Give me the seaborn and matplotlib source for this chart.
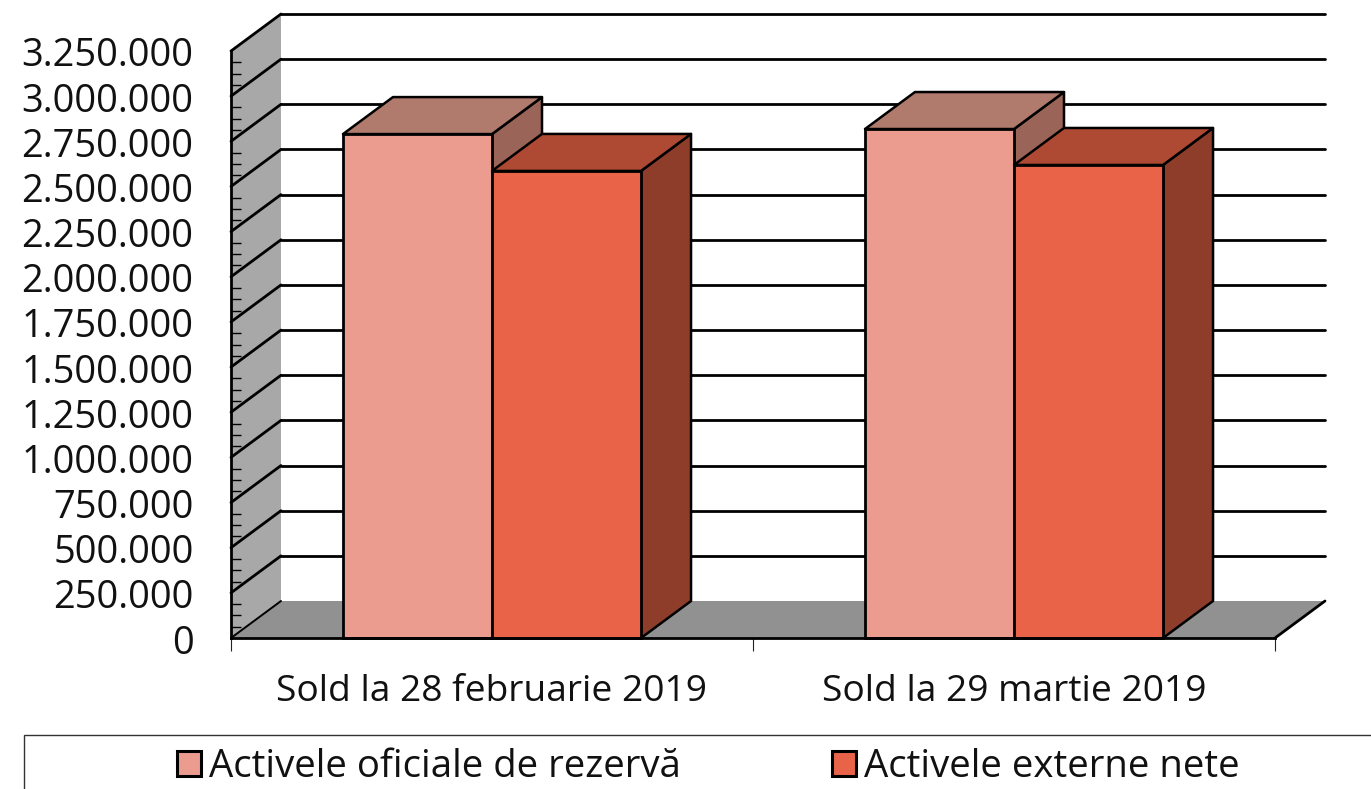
import matplotlib
matplotlib.use("Agg")
import matplotlib.pyplot as plt
import pandas as pd
import seaborn as sns
from matplotlib.patches import Polygon, Rectangle
from matplotlib.ticker import MultipleLocator
from matplotlib.transforms import ScaledTranslation

categories = ["Sold la 28 februarie 2019", "Sold la 29 martie 2019"]
series_names = ["Activele oficiale de rezervă", "Activele externe nete"]
rezerva = [2790000, 2818000]
externe = [2586000, 2619000]
y_ticks = [0, 250000, 500000, 750000, 1000000, 1250000, 1500000, 1750000,
           2000000, 2250000, 2500000, 2750000, 3000000, 3250000]
y_labels = ["0", "250.000", "500.000", "750.000", "1.000.000", "1.250.000", "1.500.000",
            "1.750.000", "2.000.000", "2.250.000", "2.500.000", "2.750.000",
            "3.000.000", "3.250.000"]

W, H = 1371, 789
FRONT = ["#EC9C8E", "#E96348"]
TOP = ["#B07A6C", "#AE4A33"]
SIDE = ["#9A6458", "#8F3D2B"]
FONT = "Open Sans"

sns.set_theme(style="white")
plt.rcParams["font.family"] = [FONT, "DejaVu Sans"]

df = pd.DataFrame({
    "cat": categories * 2,
    "serie": [series_names[0]] * 2 + [series_names[1]] * 2,
    "val": rezerva + externe,
})

fig = plt.figure(figsize=(W / 100, H / 100), dpi=100, facecolor="white")
ax = fig.add_axes([231 / W, 1 - 638 / H, (1275 - 231) / W, (638 - 51) / H])
ax.patch.set_visible(False)

sns.barplot(data=df, x="cat", y="val", hue="serie", hue_order=series_names,
            palette=FRONT, width=0.571, gap=0, saturation=1, edgecolor="black",
            linewidth=2, ax=ax, legend=False)

ax.set_xlim(-0.5, 1.5)
ax.set_ylim(0, 3250000)
ax.set_xlabel("")
ax.set_ylabel("")

# depth of the pseudo-3D box, in data units
dx = 50 / 522
dy = 37 * 3250000 / 587
ymax = 3250000


def poly(pts, z, fc="none", ec="black", lw=1.8):
    ax.add_patch(Polygon(pts, closed=True, facecolor=fc, edgecolor=ec, linewidth=lw,
                         zorder=z, clip_on=False, joinstyle="round"))


def line(xs, ys, z=0.6, lw=2.0):
    ax.plot(xs, ys, color="black", lw=lw, zorder=z, clip_on=False, solid_capstyle="round")


# walls and floor
poly([(-0.5, 0), (-0.5 + dx, dy), (-0.5 + dx, ymax + dy), (-0.5, ymax)], 0.2, "#A8A8A8", "none", 0)
poly([(-0.5, 0), (1.5, 0), (1.5 + dx, dy), (-0.5 + dx, dy)], 0.3, "#919191", "none", 0)
line([-0.5, -0.5 + dx], [0, dy], lw=1.4)
line([1.5, 1.5 + dx], [0, dy], lw=2.0)

for t in y_ticks[1:]:
    line([-0.5, -0.5 + dx], [t, t + dy])
    line([-0.5 + dx, 1.5 + dx], [t + dy, t + dy])

# bar depth faces, stacked so that each bar covers what lies behind it
bars = [p for p in ax.patches if isinstance(p, Rectangle) and p.get_height() > 0][:4]
order = sorted(range(len(bars)), key=lambda i: bars[i].get_x())
for n, i in enumerate(order):
    b = bars[i]
    x0, x1, h = b.get_x(), b.get_x() + b.get_width(), b.get_height()
    s = n % 2
    z = 2 + n
    poly([(x1, 0), (x1 + dx, dy), (x1 + dx, h + dy), (x1, h)], z, SIDE[s])
    poly([(x0, h), (x1, h), (x1 + dx, h + dy), (x0 + dx, h + dy)], z + 0.1, TOP[s])
    b.set_zorder(z + 0.2)
    b.set_clip_on(False)

for sp in ("top", "right"):
    ax.spines[sp].set_visible(False)
for sp in ("left", "bottom"):
    ax.spines[sp].set_color("black")
    ax.spines[sp].set_linewidth(2)
    ax.spines[sp].set_zorder(1.5)
ax.spines["bottom"].set_zorder(10)

ax.set_yticks(y_ticks)
ax.set_yticklabels(y_labels)
ax.yaxis.set_minor_locator(MultipleLocator(62500))
ax.tick_params(axis="y", which="major", length=0, pad=27, labelsize=27.4, labelcolor="#111111")
ax.tick_params(axis="y", which="minor", left=True, direction="in", length=7, width=1, color="black")
shift = ScaledTranslation(0, -1 / 100, fig.dpi_scale_trans)
for lab in ax.get_yticklabels():
    lab.set_transform(lab.get_transform() + shift)

ax.xaxis.set_minor_locator(plt.FixedLocator([-0.5, 0.5, 1.5]))
ax.tick_params(axis="x", which="minor", bottom=True, direction="out", length=9, width=0.8, color="#222222")
ax.tick_params(axis="x", which="major", length=0, pad=26, labelsize=26.7, labelcolor="#111111")

# legend box runs off the bottom of the picture
fig.add_artist(Rectangle((24 / W, -0.05), 1.1, 1 - 735 / H + 0.05, transform=fig.transFigure,
                         facecolor="white", edgecolor="#333333", linewidth=1.0))
handles = [Rectangle((0, 0), 1, 1, facecolor=c, edgecolor="black", linewidth=2.2) for c in FRONT]
fig.legend(handles, series_names, loc="center left", bbox_to_anchor=(177 / W, 1 - 767 / H),
           ncol=2, frameon=False, fontsize=27.6, labelcolor="#111111", borderaxespad=0, borderpad=0,
           handlelength=0.62, handleheight=0.62, handletextpad=0.22, columnspacing=3.94)

fig.savefig("out.png", dpi=100)
